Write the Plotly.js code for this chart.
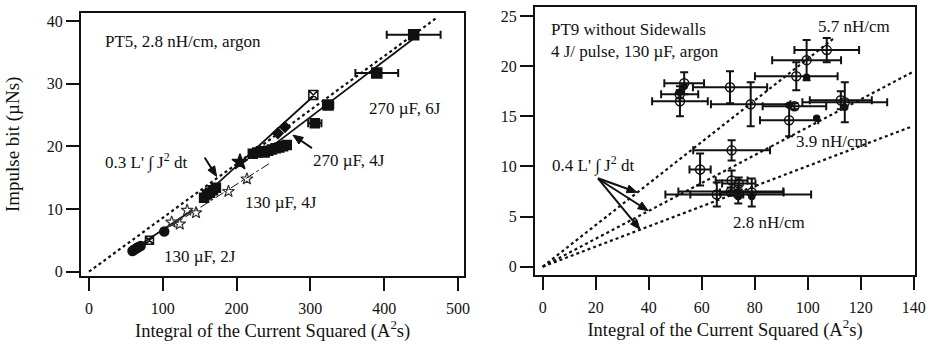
<!DOCTYPE html>
<html><head><meta charset="utf-8">
<script src="https://cdn.plot.ly/plotly-3.0.1.min.js"></script>
<style>html,body{margin:0;padding:0;background:#fff}#c{width:928px;height:345px}</style>
</head><body><div id="c"></div>
<script>
// ---------- Left panel data (PT5) ----------
const refLineX = [0, 471];          // 0.3 L' ∫J² dt
const refLineY = [0, 40.5];
const fitA_X = [150, 304];           // solid fit through upper group
const fitA_Y = [11.5, 28.0];
const fitB_X = [250, 440];           // solid fit 270 µF
const fitB_Y = [20.2, 37.2];
const fit2J_X = [58, 140];
const fit2J_Y = [3.4, 9.8];
const fit4J_X = [110, 245];
const fit4J_Y = [7.2, 17.3];

const c130_2J_X = [59, 61, 63, 65, 67, 70, 102];
const c130_2J_Y = [3.3, 3.5, 3.6, 3.8, 3.9, 4.1, 6.4];
const c130_2J_openX = [82];
const c130_2J_openY = [5.0];

const c130_4J_X = [112, 123, 133, 145, 189, 214];
const c130_4J_Y = [7.9, 7.6, 9.8, 9.4, 12.8, 14.8];

const c270_4J_X = [156, 160, 164, 168, 172, 222, 228, 233, 238, 243, 248, 253, 258, 263, 268];
const c270_4J_Y = [11.8, 12.3, 12.6, 13.0, 13.4, 18.8, 19.0, 19.2, 19.0, 19.3, 19.5, 19.7, 19.8, 20.0, 20.2];
const c270_4J_errX = [306];
const c270_4J_errY = [23.7];
const c270_4J_errXe = [9];
const starX = [204.6];
const starY = [17.5];
const diamX = [256, 265.6];
const diamY = [22.1, 23.1];

const c270_6J_X = [324, 390, 440];
const c270_6J_Y = [26.6, 31.7, 37.8];
const c270_6J_Xe = [7, 29, 36.5];
const c270_6J_openX = [304];
const c270_6J_openY = [28.2];

// ---------- Right panel data (PT9) ----------
const line57X = [0, 110], line57Y = [0, 22.8];
const line39X = [0, 139.5], line39Y = [0, 19.4];
const line28X = [0, 139.5], line28Y = [0, 14.0];

const pt9X  = [53.4, 51.8, 51.7, 70.7, 78.5, 99.6, 107.2, 95.7, 93.0, 95.0, 114.0, 112.5, 71.3, 59.4, 65.7, 73.8, 78.9, 71.0, 71.3, 74.0];
const pt9Y  = [18.3, 16.5, 17.2, 17.9, 16.2, 20.6, 21.6, 19.0, 14.6, 16.0, 16.4, 16.6, 11.6, 9.7, 7.2, 7.2, 7.4, 7.5, 8.6, 8.3];
const pt9Xe = [7.5, 10.5, 7.0, 14.0, 15.0, 13.0, 12.2, 15.6, 11.0, 12.0, 16.0, 11.7, 14.5, 4.0, 10.0, 27.5, 12.0, 19.8, 6.0, 6.3];
const pt9Ye = [1.1, 1.5, 0.4, 1.6, 2.2, 2.0, 1.2, 1.4, 1.6, 0.3, 2.0, 0.9, 1.0, 1.6, 1.2, 0.9, 1.4, 0.4, 1.0, 0.6];
const pt9FillX = [53.4, 51.7, 93.0, 99.6, 103.4, 114.0, 73.8, 78.9];
const pt9FillY = [18.0, 17.4, 16.1, 18.9, 14.8, 15.9, 7.0, 7.0];

const leftTicksX = [0, 100, 200, 300, 400, 500];
const leftTicksY = [0, 10, 20, 30, 40];
const rightTicksX = [0, 20, 40, 60, 80, 100, 120, 140];
const rightTicksY = [0, 5, 10, 15, 20, 25];

const F = 'Liberation Serif, Times New Roman, serif';
const K = '#111';
const W = 928, H = 345;

function ln(x, y, xa, ya, dash, w) {
  return {x: x, y: y, xaxis: xa, yaxis: ya, mode: 'lines', line: {color: K, width: w, dash: dash}, hoverinfo: 'skip', showlegend: false};
}
function mk(x, y, xa, ya, sym, size, extra) {
  const t = {x: x, y: y, xaxis: xa, yaxis: ya, mode: 'markers', marker: {symbol: sym, size: size, color: K, line: {color: K, width: 1.5}}, showlegend: false};
  return Object.assign(t, extra || {});
}
function ex(arr) { return {type: 'data', array: arr, visible: true, color: K, thickness: 2, width: 4}; }

const traces = [
  ln(refLineX, refLineY, 'x', 'y', 'dot', 2.2),
  ln(fitA_X, fitA_Y, 'x', 'y', 'solid', 1.8),
  ln(fitB_X, fitB_Y, 'x', 'y', 'solid', 1.8),
  ln(fit2J_X, fit2J_Y, 'x', 'y', 'solid', 1.8),
  ln(fit4J_X, fit4J_Y, 'x', 'y', 'dashdot', 1),
  mk(c130_2J_X, c130_2J_Y, 'x', 'y', 'circle', 9),
  mk(c130_2J_openX, c130_2J_openY, 'x', 'y', 'square-x-open', 8),
  mk(c130_4J_X, c130_4J_Y, 'x', 'y', 'star-open', 9, {marker: {symbol: 'star-open', size: 9, color: '#333', line: {color: '#333', width: 1.2}}}),
  mk(c270_4J_X, c270_4J_Y, 'x', 'y', 'square', 9),
  mk(c270_4J_errX, c270_4J_errY, 'x', 'y', 'square', 9, {error_x: ex(c270_4J_errXe)}),
  mk(starX, starY, 'x', 'y', 'star', 12),
  mk(diamX, diamY, 'x', 'y', 'diamond', 8),
  mk(c270_6J_X, c270_6J_Y, 'x', 'y', 'square', 10, {error_x: ex(c270_6J_Xe)}),
  mk(c270_6J_openX, c270_6J_openY, 'x', 'y', 'square-x-open', 9),

  ln(line57X, line57Y, 'x2', 'y2', 'dot', 2.2),
  ln(line39X, line39Y, 'x2', 'y2', 'dot', 2.2),
  ln(line28X, line28Y, 'x2', 'y2', 'dot', 2.2),
  mk(pt9X, pt9Y, 'x2', 'y2', 'circle-open', 9, {error_x: ex(pt9Xe), error_y: ex(pt9Ye)}),
  mk(pt9FillX, pt9FillY, 'x2', 'y2', 'circle', 6)
];

const axTitleF = {family: F, size: 18.5, color: K};
function ax(dom, rng, tv, anchor, extra) {
  return Object.assign({
    domain: dom, range: rng, tickvals: tv, ticktext: tv.map(String), anchor: anchor,
    showgrid: false, zeroline: false, showline: true, mirror: true, linecolor: K, linewidth: 2,
    ticks: 'outside', ticklen: 13, tickwidth: 2, tickcolor: K,
    tickfont: {family: F, size: 16, color: K}
  }, extra || {});
}

const XL = {dom: [81/W, 464.3/W], rng: [-10.8, 508.6]};
const YL = {dom: [69/H, 332.3/H], rng: [-0.69, 41.33]};
const XR = {dom: [535/W, 915/W], rng: [-2.9, 140.5]};
const YR = {dom: [70/H, 338.3/H], rng: [-0.83, 25.93]};

// arrow (shaft + head) as shapes; tail given as pixel offset from the tip
function arrowShapes(xr, yr, X, Y, tipX, tipY, dx, dy) {
  const sx = (X.dom[1] - X.dom[0]) * W / (X.rng[1] - X.rng[0]);
  const sy = (Y.dom[1] - Y.dom[0]) * H / (Y.rng[1] - Y.rng[0]);
  const toX = p => tipX + p / sx, toY = p => tipY - p / sy;
  const L = Math.hypot(dx, dy), ux = dx / L, uy = dy / L;
  const hl = 10, hw = 4;
  const bx = ux * hl, by = uy * hl;
  const p1 = [bx - uy * hw, by + ux * hw], p2 = [bx + uy * hw, by - ux * hw];
  return [
    {type: 'line', xref: xr, yref: yr, x0: toX(dx), y0: toY(dy), x1: toX(bx * 0.6), y1: toY(by * 0.6), line: {color: K, width: 2}},
    {type: 'path', xref: xr, yref: yr, fillcolor: K, line: {color: K, width: 1},
     path: 'M' + tipX + ',' + tipY + ' L' + toX(p1[0]) + ',' + toY(p1[1]) + ' L' + toX(p2[0]) + ',' + toY(p2[1]) + ' Z'}
  ];
}

const annF = {family: F, size: 17, color: K};
function txt(x, y, xr, yr, t) {
  return {x: x, y: y, xref: xr, yref: yr, text: t, showarrow: false, font: annF, xanchor: 'left', yanchor: 'middle'};
}

const shapes = [].concat(
  arrowShapes('x', 'y', XL, YL, 173, 15.2, -12, -19),
  arrowShapes('x', 'y', XL, YL, 276.4, 21.8, 19, 13),
  arrowShapes('x2', 'y2', XR, YR, 35.6, 7.42, -39, -14),
  arrowShapes('x2', 'y2', XR, YR, 39.8, 5.58, -50, -32),
  arrowShapes('x2', 'y2', XR, YR, 36.7, 3.73, -42, -51)
);

const layout = {
  width: W, height: H, margin: {l: 0, r: 0, t: 0, b: 0},
  paper_bgcolor: '#fff', plot_bgcolor: '#fff', showlegend: false,
  font: {family: F, color: K},
  xaxis: ax(XL.dom, XL.rng, leftTicksX, 'y',
    {ticklabelstandoff: 4, title: {text: 'Integral of the Current Squared (A<sup>2</sup>s)', font: axTitleF, standoff: 6}}),
  yaxis: ax(YL.dom, YL.rng, leftTicksY, 'x',
    {title: {text: 'Impulse bit (µNs)', font: {family: F, size: 19, color: K}, standoff: 22}}),
  xaxis2: ax(XR.dom, XR.rng, rightTicksX, 'y2',
    {ticklabelstandoff: 4, title: {text: 'Integral of the Current Squared (A<sup>2</sup>s)', font: axTitleF, standoff: 6}}),
  yaxis2: ax(YR.dom, YR.rng, rightTicksY, 'x2'),
  shapes: shapes,
  annotations: [
    txt(19, 36.7, 'x', 'y', 'PT5, 2.8 nH/cm, argon'),
    txt(377, 26.0, 'x', 'y', '270 µF, 6J'),
    txt(301, 17.8, 'x', 'y', '270 µF, 4J'),
    txt(19, 17.6, 'x', 'y', "0.3 L' ∫ J<sup>2</sup> dt"),
    txt(209, 11.1, 'x', 'y', '130 µF, 4J'),
    txt(99, 2.4, 'x', 'y', '130 µF, 2J'),

    txt(2.3, 23.7, 'x2', 'y2', 'PT9 without Sidewalls'),
    txt(2.3, 21.5, 'x2', 'y2', '4 J/ pulse, 130 µF, argon'),
    txt(103, 24.0, 'x2', 'y2', '5.7 nH/cm'),
    txt(95, 12.5, 'x2', 'y2', '3.9 nH/cm'),
    txt(71, 4.4, 'x2', 'y2', '2.8 nH/cm'),
    txt(2.8, 10.2, 'x2', 'y2', "0.4 L' ∫ J<sup>2</sup> dt")
  ]
};

Plotly.newPlot('c', traces, layout, {staticPlot: true, displayModeBar: false});
</script></body></html>
